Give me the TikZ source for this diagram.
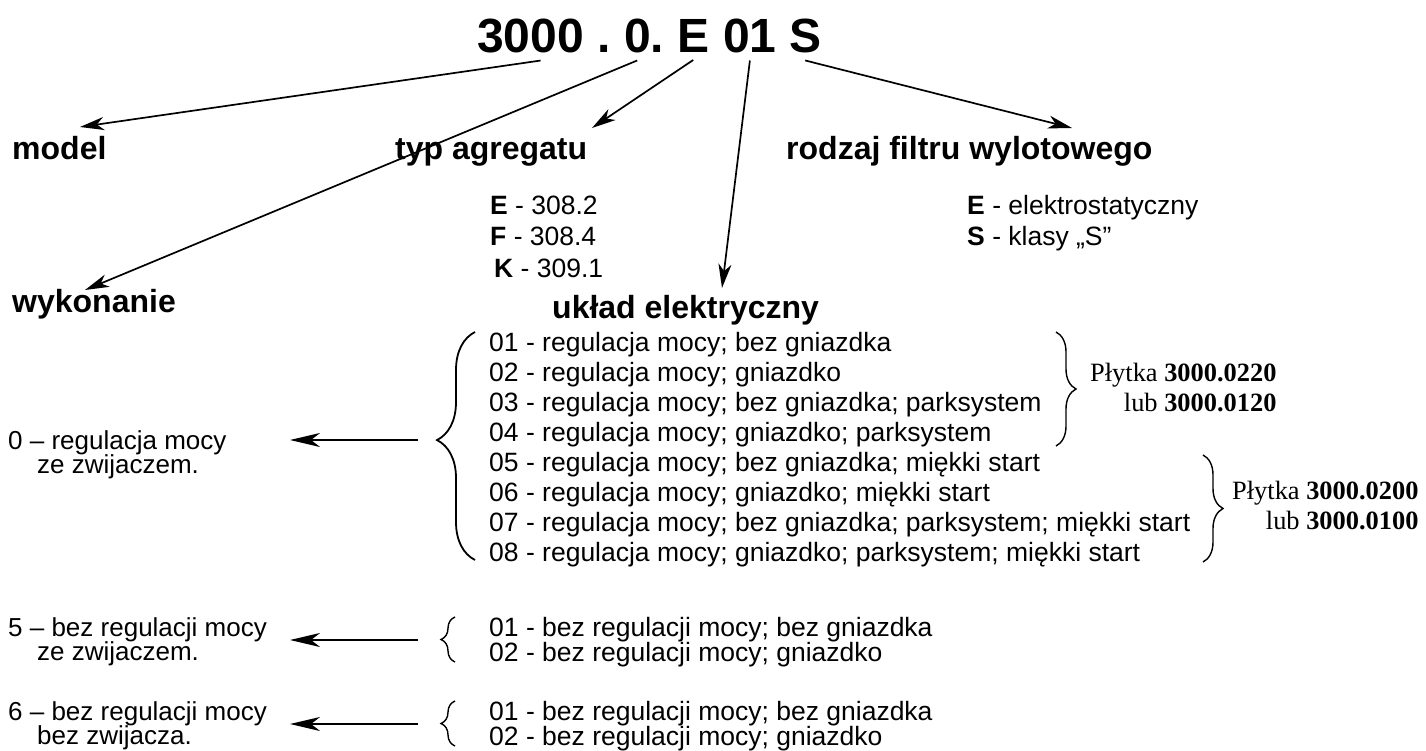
\documentclass[tikz,border=0pt]{standalone}
\usepackage{fontspec}
\setmainfont{Liberation Sans}
\newfontfamily\serif{Liberation Serif}
\usetikzlibrary{arrows.meta,decorations.pathreplacing}

\tikzset{
  ttl/.style={anchor=base west, inner sep=0pt, outer ysep=7pt, font=\fontsize{48}{58}\selectfont\bfseries},
  head/.style={anchor=base west, inner sep=0pt, font=\fontsize{32}{38}\selectfont\bfseries},
  txt/.style={anchor=base west, inner sep=0pt, font=\fontsize{26.5}{30}\selectfont},
  lbl/.style={anchor=base west, inner sep=0pt, font=\fontsize{26}{25}\selectfont},
  plt/.style={anchor=base west, inner sep=0pt, font=\fontsize{26.4}{30}\selectfont\serif},
  tarr/.style={line width=1.7pt, -{Stealth[length=24pt,width=13pt,inset=7pt]}},
  harr/.style={line width=2.2pt, -{Stealth[length=30pt,width=14pt,inset=9pt]}},
  brc/.style={decorate, decoration={brace, amplitude=#1}},
}

\begin{document}
\begin{tikzpicture}[x=1pt,y=-1pt]
\useasboundingbox (0,0) rectangle (1426,751);

% code
\node[ttl] (t3000) at (477,53) {3000};
\node[ttl] (tdot) at (597,53) {.};
\node[ttl] (t0) at (624,53) {0.};
\node[ttl] (tE) at (677,53) {E};
\node[ttl] (t01) at (723,53) {01};
\node[ttl] (tS) at (789,53) {S};

% headings
\node[head] (model) at (12,160) {model};
\node[head] (typ) at (395,160) {typ agregatu};
\node[head] (filtr) at (786,160) {rodzaj filtru wylotowego};
\node[head] (wyk) at (12,312) {wykonanie};
\node[head] (uklad) at (552,318) {układ elektryczny};

\coordinate (pModel) at (80,127);
\coordinate (pTyp) at (592,128);
\coordinate (pWyk) at (85,290);
\coordinate (pUklad) at (722,288);
\coordinate (pFiltr) at (1072,128);

\draw[tarr] ([xshift=10pt]t3000.south) -- (pModel);
\draw[tarr] ([xshift=-7pt]t0.south) -- (pWyk);
\draw[tarr] (tE.south) -- (pTyp);
\draw[tarr] (t01.south) -- (pUklad);
\draw[tarr] (tS.south) -- (pFiltr);

% typ agregatu / filtr
\node[txt] (agrE) at (490,215) {\textbf{E} - 308.2};
\node[txt] (agrF) at (490,246) {\textbf{F} - 308.4};
\node[txt] (agrK) at (494,277) {\textbf{K} - 309.1};
\node[txt] (filE) at (967,215) {\textbf{E} - elektrostatyczny};
\node[txt] (filS) at (967,246) {\textbf{S} - klasy „S”};

% uklad elektryczny
\foreach \t [count=\i] in {regulacja mocy; bez gniazdka,
    regulacja mocy; gniazdko,
    regulacja mocy; bez gniazdka; parksystem,
    regulacja mocy; gniazdko; parksystem,
    regulacja mocy; bez gniazdka; miękki start,
    regulacja mocy; gniazdko; miękki start,
    regulacja mocy; bez gniazdka; parksystem; miękki start,
    regulacja mocy; gniazdko; parksystem; miękki start}
  \node[txt] (row\i) at (489,321.5+30*\i) {0\i{} - \t};

\foreach \s/\y in {a/636,b/720} {
  \node[txt] (bez\s1) at (489,\y) {01 - bez regulacji mocy; bez gniazdka};
  \node[txt] (bez\s2) at (489,\y+25) {02 - bez regulacji mocy; gniazdko};
}

% braces
\draw[brc=38, decoration={aspect=0.526}, line width=1.8pt] (475,560) -- (475,332);
\draw[brc=20, line width=1.4pt] (1056,332) -- (1056,446);
\draw[brc=20, line width=1.4pt] (1203,455) -- (1203,562);
\draw[brc=14, line width=1.4pt] (455,662) -- (455,617);
\draw[brc=14, line width=1.4pt] (455,746) -- (455,701);

\node[plt] (plA1) at (1090,381) {Płytka \textbf{3000.0220}};
\node[plt, anchor=base east] (plA2) at (plA1.base east |- 0,411) {lub \textbf{3000.0120}};
\node[plt] (plB1) at (1232,499) {Płytka \textbf{3000.0200}};
\node[plt, anchor=base east] (plB2) at (plB1.base east |- 0,529) {lub \textbf{3000.0100}};

% wykonanie
\node[lbl] (w0a) at (8,449) {0 – regulacja mocy};
\node[lbl] (w0b) at (37,473) {ze zwijaczem.};
\node[lbl] (w5a) at (8,636) {5 – bez regulacji mocy};
\node[lbl] (w5b) at (37,660) {ze zwijaczem.};
\node[lbl] (w6a) at (8,720) {6 – bez regulacji mocy};
\node[lbl] (w6b) at (37,744) {bez zwijacza.};

\coordinate (b0) at (418,440);
\coordinate (h0) at (290,440);
\coordinate (b5) at (418,640);
\coordinate (h5) at (290,640);
\coordinate (b6) at (418,724);
\coordinate (h6) at (290,724);
\draw[harr] (b0) -- (h0);
\draw[harr] (b5) -- (h5);
\draw[harr] (b6) -- (h6);
\end{tikzpicture}
\end{document}
